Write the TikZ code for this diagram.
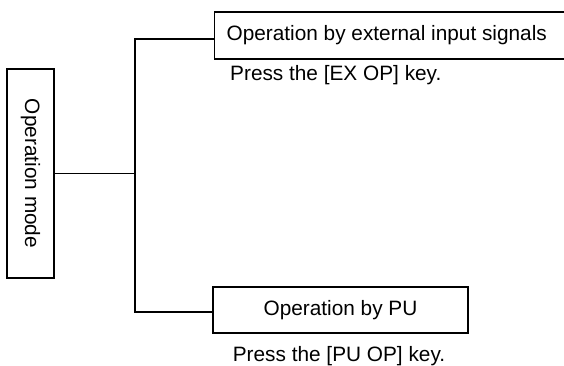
\documentclass[tikz,border=0pt]{standalone}
\usepackage{fontspec}
\setmainfont{Liberation Sans}
\begin{document}
\begin{tikzpicture}[x=1pt,y=-1pt,
  every node/.style={font=\fontsize{20.8}{24}\selectfont, text=black},
  box/.style={draw, line width=1.2pt, inner sep=0pt},
  wire/.style={line width=1.2pt},
  note/.style={inner sep=0pt}]
\useasboundingbox (0,0) rectangle (564,366);
\node[box, rotate=-90, minimum width=209pt, minimum height=47pt] (mode) at (30.5,173.5) {Operation mode};
\node[box, anchor=west, minimum height=47pt, inner xsep=12pt] (ext) at (214,35.5) {\makebox[336pt][l]{Operation by external input signals}};
\node[note, anchor=base west] (exnote) at (230,81) {Press the [EX OP] key.};
\node[box, minimum width=255pt, minimum height=46pt] (pu) at (340.5,310) {Operation by PU};
\node[note, anchor=base] (punote) at (339,361) {Press the [PU OP] key.};
\coordinate (top) at (135,39);
\coordinate (bot) at (135,312);
\draw[wire] (mode.north) -- (mode.north -| top);
\draw[wire] (ext.west |- top) -- (top) -- (bot) -- (bot -| pu.west);
\end{tikzpicture}
\end{document}
